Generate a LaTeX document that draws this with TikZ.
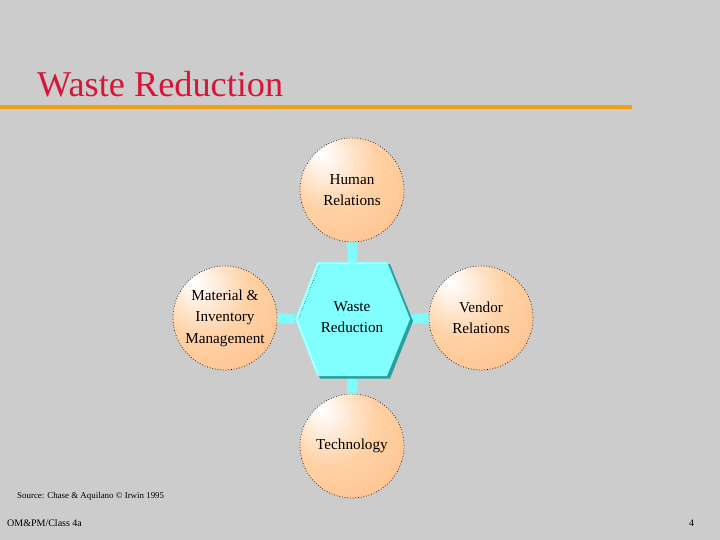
\documentclass[tikz,border=0pt]{standalone}
\usepackage{fontspec}
\setmainfont{Liberation Serif}
\definecolor{bg}{RGB}{204,204,204}
\definecolor{titlered}{RGB}{214,22,56}
\definecolor{rulecol}{RGB}{240,160,24}
\definecolor{hexfill}{RGB}{130,255,255}
\definecolor{hexdark}{RGB}{40,160,160}
\definecolor{barcol}{RGB}{128,250,250}
\definecolor{pA}{RGB}{255,246,238}
\definecolor{pB}{RGB}{255,210,166}
\definecolor{pC}{RGB}{255,184,124}
\pgfdeclareradialshading{peach}{\pgfpoint{-15bp}{18bp}}{color(0bp)=(white); color(5bp)=(pA); color(22bp)=(pB); color(55bp)=(pC); color(80bp)=(pC)}
\tikzset{
  ball/.style={circle, minimum size=104pt, inner sep=0pt, shading=peach,
    draw=black, dotted, line width=0.7pt, align=center,
    font=\fontsize{15.2}{21.5}\selectfont},
  bar/.style={line width=10pt, draw=barcol},
  hexlabel/.style={align=center, font=\fontsize{15.2}{21.5}\selectfont},
  foot/.style={anchor=base west, inner sep=0pt}
}
\begin{document}
\begin{tikzpicture}[x=1pt,y=-1pt]
\useasboundingbox (0,0) rectangle (720,540);
\fill[bg] (0,0) rectangle (720,540);
% title
\node[anchor=base west, inner sep=0pt, text=titlered, font=\fontsize{36.3}{40}\selectfont] (title) at (37,97) {Waste Reduction};
\draw[rulecol, line width=4pt] (0,107) -- (632,107);
% hexagon placeholder node
\node[minimum width=115pt, minimum height=114pt, inner sep=0pt] (hex) at (352.5,319) {};
% balls
\node[ball] (hum) at (352,190) {Human\\Relations};
\node[ball] (mat) at (225,318) {Material \&\\Inventory\\Management};
\node[ball] (ven) at (481,318) {Vendor\\Relations};
\node[ball] (tec) at (352,446) {Technology};
% connectors
\draw[bar] (hum.south) -- (hex.north);
\draw[bar] (tec.north) -- (hex.south);
\draw[bar] (mat.east) -- (hex.west);
\draw[bar] (ven.west) -- (hex.east);
% hexagon drawing
\fill[hexdark] (320,264) -- (390,264) -- (413,321) -- (390,378.5) -- (320,378.5) -- (298,321) -- cycle;
\fill[hexfill] (317,262) -- (387,262) -- (410,319) -- (387,376) -- (317,376) -- (295,319) -- cycle;
\draw[white!60!hexfill, line width=1pt] (387,263) -- (318,263) -- (296.5,319) -- (318,375);
\draw[black, dotted, line width=0.5pt] (299,318) -- (319,266);
\node[hexlabel] (hext) at (352,317) {Waste\\Reduction};
% footer
\node[foot, font=\fontsize{8.9}{10}\selectfont] (src) at (17,498) {Source: Chase \& Aquilano © Irwin 1995};
\node[foot, font=\fontsize{10}{12}\selectfont] (cls) at (7,526) {OM\&PM/Class 4a};
\node[foot, font=\fontsize{10}{12}\selectfont] (pg) at (689,526) {4};
\end{tikzpicture}
\end{document}
